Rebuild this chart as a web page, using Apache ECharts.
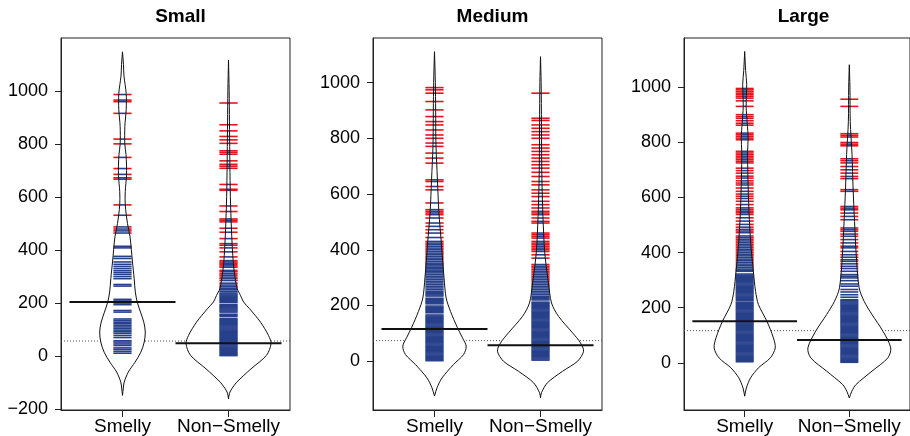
<!DOCTYPE html>
<html>
<head>
<meta charset="utf-8">
<script src="https://cdn.jsdelivr.net/npm/echarts@6/dist/echarts.min.js"></script>
<style>
  html, body { margin: 0; padding: 0; background: #fff; }
  #chart { width: 910px; height: 436px; }
</style>
</head>
<body>
<div id="chart"></div>
<script>
// ---- data ----
const panelTitles = ["Small", "Medium", "Large"];
const groups = ["Smelly", "Non\u2212Smelly"];
const yTicks = [-200, 0, 200, 400, 600, 800, 1000];
const yRanges = [[-203, 1199], [-175, 1160], [-171, 1178]];

// group means (solid lines) and overall mean (dotted line)
const smallMeans = [204, 49];
const mediumMeans = [116, 57];
const largeMeans = [151, 83];
const overallMeans = [57, 74, 117];

// bean outlines: value levels and half width (x-axis units)
const smallSmellyBeanY = [-148, -120, -98, -60, -23, 15, 53, 91, 128, 166, 204, 242, 293, 355, 450, 500, 570, 620, 680, 720, 760, 800, 865, 930, 990, 1056, 1100, 1147];
const smallSmellyBeanW = [0, .008, .016, .055, .118, .173, .205, .215, .201, .170, .139, .121, .110, .094, .071, .047, .026, .026, .038, .038, .033, .022, .022, .035, .035, .014, .009, 0];
const smallNonBeanY = [-161, -140, -123, -98, -48, 3, 47, 78, 128, 179, 204, 229, 254, 317, 380, 506, 632, 883, 1000, 1116];
const smallNonBeanW = [0, .009, .031, .078, .212, .358, .401, .377, .302, .198, .142, .113, .082, .055, .040, .025, .016, .009, .006, 0];
const mediumSmellyBeanY = [-125, -95, -60, -12, 24, 54, 84, 120, 179, 227, 299, 418, 538, 650, 777, 900, 1000, 1111];
const mediumSmellyBeanW = [0, .024, .071, .179, .274, .299, .264, .217, .151, .110, .090, .066, .041, .028, .014, .011, .008, 0];
const mediumNonBeanY = [-131, -113, -77, -36, 0, 36, 66, 102, 161, 209, 281, 400, 639, 850, 1000, 1093];
const mediumNonBeanW = [0, .009, .066, .208, .349, .406, .377, .302, .170, .104, .075, .038, .014, .009, .006, 0];
const largeSmellyBeanY = [-121, -91, -54, -18, 18, 54, 91, 151, 211, 259, 332, 429, 549, 670, 767, 815, 870, 930, 1010, 1060, 1129];
const largeSmellyBeanW = [0, .016, .057, .132, .245, .292, .274, .212, .132, .104, .083, .059, .041, .031, .028, .033, .024, .014, .019, .009, 0];
const largeNonBeanY = [-127, -103, -79, -30, 18, 54, 115, 175, 223, 272, 392, 513, 634, 755, 875, 1000, 1081];
const largeNonBeanW = [0, .024, .063, .217, .368, .396, .321, .217, .142, .094, .066, .050, .036, .026, .009, .006, 0];

// individual observations (bean lines)
const smallSmelly = [986, 965, 959, 915, 818, 800, 749, 707, 685, 672, 667, 570, 531, 487, 479, 472, 464, 414, 408, 376, 368, 355, 346, 338, 330, 322, 315, 308, 300, 292, 270, 264, 214, 208, 200, 194, 172, 166, 140, 134, 128, 122, 116, 110, 104, 98, 92, 86, 78, 70, 58, 53, 46, 40, 31, 25, 18, 11];
const smallNon = [954, 872, 849, 828, 815, 802, 774, 768, 761, 736, 723, 716, 708, 647, 629, 625, 566, 545, 517, 512, 506, 482, 467, 443, 424, 418, 408, 393, 374, 360, 355, 350, 345, 340, 335, 323, 318, 311, 305, 298, 292, 285, 275, 268, 262, 256, 250, 244, 238, 234,
  230, 226, 222, 218, 214, 210, 206, 202, 194, 190, 186, 182, 178, 174, 170, 166, 158, 154, 150, 142, 138, 134, 130, 126, 122, 118, 114, 110, 106, 102, 98, 94, 90, 86, 82, 78, 74, 70, 66, 62, 58, 54, 50, 46, 42, 38, 34, 30, 26, 22, 18, 14, 10, 6, 2];
const mediumSmelly = [982, 974, 962, 932, 902, 878, 860, 848, 830, 812, 800, 783, 771, 747, 729, 711, 651, 645, 627, 615, 568, 544, 538, 532, 526, 514, 496, 484, 472, 460, 444, 430, 424, 418, 412, 406, 400, 394, 388, 382, 376, 370, 364, 358, 352, 347, 342, 337, 332, 327, 322, 317, 311, 305, 299, 293, 287, 281, 275, 269, 263, 257, 251,
  246, 242, 238, 234, 226, 222, 218, 214, 210, 206, 198, 194, 190, 186, 182, 178, 174, 166, 162, 158, 154, 150, 146, 142, 138, 134, 130, 126, 122, 118, 114, 110, 106, 102, 98, 94, 90, 86, 82, 78, 74, 70, 66, 62, 58, 54, 50, 46, 42, 38, 34, 30, 26, 22, 18, 14, 10, 6, 2];
const mediumNon = [962, 872, 864, 848, 836, 824, 812, 800, 777, 765, 753, 741, 729, 717, 705, 693, 678, 663, 645, 633, 615, 603, 591, 574, 562, 550, 538, 532, 526, 514, 502, 496, 460, 454, 448, 442, 430, 424, 418, 412, 406, 400, 394, 382, 370, 347, 341, 335, 329, 323, 317, 311, 305, 299, 293, 287, 281, 275, 269, 263, 257, 251, 245, 239, 233,
  228, 224, 220, 212, 208, 204, 200, 196, 192, 188, 184, 180, 176, 172, 168, 164, 160, 156, 152, 148, 144, 140, 136, 132, 128, 124, 120, 116, 112, 108, 104, 100, 96, 92, 88, 84, 80, 76, 72, 68, 64, 60, 56, 52, 48, 44, 40, 36, 32, 28, 24, 20, 16, 12, 8, 4];
const largeSmelly = [995, 990, 984, 978, 972, 966, 960, 950, 930, 900, 893, 887, 878, 869, 862, 833, 827, 821, 815, 809, 767, 761, 755, 749, 743, 737, 731, 725, 706, 697, 688, 677, 670, 660, 652, 645, 634, 622, 612, 604, 596, 586, 574, 562, 556, 550, 544, 538, 526, 514, 502, 492, 484, 478, 472, 460, 454, 448, 442, 436, 430, 424, 418, 412, 406, 400, 394, 388, 382, 376, 370, 364, 358, 352, 346, 340, 336,
  332, 322, 318, 314, 310, 306, 302, 298, 294, 290, 286, 282, 278, 274, 270, 266, 262, 258, 254, 250, 246, 242, 238, 234, 230, 226, 220, 216, 212, 208, 204, 200, 196, 192, 188, 184, 180, 176, 172, 168, 164, 160, 156, 152, 148, 144, 140, 136, 132, 128, 124, 120, 116, 112, 108, 104, 100, 96, 92, 88, 84, 80, 76, 72, 68, 64, 60, 56, 52, 48, 44, 40, 36, 32, 28, 24, 20, 16, 12, 8, 4];
const largeNon = [956, 930, 831, 825, 819, 799, 793, 787, 740, 733, 725, 712, 700, 688, 676, 668, 628, 622, 567, 561, 555, 543, 531, 519, 489, 483, 477, 467, 459, 447, 435, 423, 417, 404, 392, 383, 374, 368, 359, 350, 342, 332, 320, 314, 308, 298, 286, 278, 266, 257, 247, 238, 229,
  225, 221, 217, 213, 209, 205, 201, 197, 193, 189, 185, 181, 177, 173, 169, 165, 161, 157, 153, 149, 145, 141, 137, 133, 129, 125, 121, 117, 113, 109, 105, 101, 97, 93, 89, 85, 81, 77, 73, 69, 65, 61, 57, 53, 49, 45, 41, 37, 33, 29, 25, 21, 17, 13, 9, 5, 2];

// ---- build panels ----
const panels = [
  { beans: [[smallSmellyBeanY, smallSmellyBeanW], [smallNonBeanY, smallNonBeanW]], obs: [smallSmelly, smallNon], means: smallMeans },
  { beans: [[mediumSmellyBeanY, mediumSmellyBeanW], [mediumNonBeanY, mediumNonBeanW]], obs: [mediumSmelly, mediumNon], means: mediumMeans },
  { beans: [[largeSmellyBeanY, largeSmellyBeanW], [largeNonBeanY, largeNonBeanW]], obs: [largeSmelly, largeNon], means: largeMeans },
];

const RED = "#e8141c";
const BLUE = "#27408b";
const LINE_HALF = 0.086;
const LINE_W = 1.6;
const X_MIN = 0.42, X_MAX = 2.58;
const gridLefts = [61, 373, 684];
const FONT = "'Liberation Sans', Arial, Helvetica, sans-serif";

function widthAt(ys, ws, v) {
  if (v <= ys[0] || v >= ys[ys.length - 1]) return 0;
  for (let i = 1; i < ys.length; i++) {
    if (v <= ys[i]) {
      const t = (v - ys[i - 1]) / (ys[i] - ys[i - 1]);
      return ws[i - 1] + t * (ws[i] - ws[i - 1]);
    }
  }
  return 0;
}

function beanPoints(api, center, ys, ws) {
  const pts = [];
  for (let i = 0; i < ys.length; i++) pts.push(api.coord([center - ws[i], ys[i]]));
  for (let i = ys.length - 1; i >= 0; i--) pts.push(api.coord([center + ws[i], ys[i]]));
  return pts;
}

function seg(x1, x2, y, color) {
  return { type: "line", shape: { x1: x1, y1: y, x2: x2, y2: y }, style: { stroke: color, lineWidth: LINE_W } };
}

const grid = [], xAxis = [], yAxis = [], series = [], title = [];

panels.forEach((p, k) => {
  grid.push({
    left: gridLefts[k], top: 38, width: 229, height: 372,
    show: true, borderColor: "#222", borderWidth: 1, backgroundColor: "transparent"
  });
  title.push({
    text: panelTitles[k], left: gridLefts[k] + 114.5, top: 2, textAlign: "center",
    textStyle: { fontFamily: FONT, fontSize: 19, fontWeight: "bold", color: "#000" }
  });
  xAxis.push({
    type: "value", gridIndex: k, min: X_MIN, max: X_MAX,
    splitLine: { show: false },
    axisLine: { show: true, onZero: false, lineStyle: { color: "#222", width: 1 } },
    axisTick: { show: true, length: 7, customValues: [1, 2], lineStyle: { color: "#222" } },
    axisLabel: {
      customValues: [1, 2], margin: 7, color: "#000", fontFamily: FONT, fontSize: 19,
      formatter: v => groups[Math.round(v) - 1] || ""
    }
  });
  yAxis.push({
    type: "value", gridIndex: k, min: yRanges[k][0], max: yRanges[k][1],
    splitLine: { show: false },
    axisLine: { show: true, onZero: false, lineStyle: { color: "#222", width: 1 } },
    axisTick: { show: true, length: 6, customValues: yTicks, lineStyle: { color: "#222" } },
    axisLabel: {
      customValues: yTicks, margin: 13, color: "#000", fontFamily: FONT, fontSize: 18,
      formatter: v => (v < 0 ? "\u2212" + Math.abs(v) : String(v))
    }
  });

  // overall mean, dotted
  series.push({
    type: "line", xAxisIndex: k, yAxisIndex: k, symbol: "none", silent: true, z: 1,
    data: [[X_MIN, overallMeans[k]], [X_MAX, overallMeans[k]]],
    lineStyle: { color: "#555", width: 1, type: [1, 2] }
  });

  // bean fill (white, hides the dotted line)
  series.push({
    type: "custom", xAxisIndex: k, yAxisIndex: k, silent: true, z: 2,
    data: [[1, 0], [2, 0]],
    renderItem: (params, api) => {
      const c = api.value(0);
      const b = p.beans[c - 1];
      return { type: "polygon", shape: { points: beanPoints(api, c, b[0], b[1]), smooth: 0.3 }, style: { fill: "#fff", stroke: null } };
    }
  });

  // bean lines: blue inside the bean, red outside it
  const obsData = [];
  p.obs.forEach((arr, g) => arr.forEach(v => obsData.push([g + 1, v])));
  series.push({
    type: "custom", xAxisIndex: k, yAxisIndex: k, silent: true, z: 3, progressive: 0,
    data: obsData,
    renderItem: (params, api) => {
      const c = api.value(0), v = api.value(1);
      const bean = p.beans[c - 1];
      const hw = Math.min(LINE_HALF, widthAt(bean[0], bean[1], v));
      const l = api.coord([c - LINE_HALF, v]), il = api.coord([c - hw, v]);
      const ir = api.coord([c + hw, v]), r = api.coord([c + LINE_HALF, v]);
      const children = [];
      if (il[0] - l[0] > 0.2) children.push(seg(l[0], il[0], l[1], RED));
      if (r[0] - ir[0] > 0.2) children.push(seg(ir[0], r[0], l[1], RED));
      if (ir[0] - il[0] > 0.2) children.push(seg(il[0], ir[0], l[1], BLUE));
      return { type: "group", children: children };
    }
  });

  // bean outline
  series.push({
    type: "custom", xAxisIndex: k, yAxisIndex: k, silent: true, z: 5,
    data: [[1, 0], [2, 0]],
    renderItem: (params, api) => {
      const c = api.value(0);
      const b = p.beans[c - 1];
      return { type: "polygon", shape: { points: beanPoints(api, c, b[0], b[1]), smooth: 0.3 }, style: { fill: null, stroke: "#111", lineWidth: 1 } };
    }
  });

  // group means
  series.push({
    type: "custom", xAxisIndex: k, yAxisIndex: k, silent: true, z: 6,
    data: [[1, p.means[0]], [2, p.means[1]]],
    renderItem: (params, api) => {
      const c = api.value(0), v = api.value(1);
      const a = api.coord([c - 0.5, v]), b = api.coord([c + 0.5, v]);
      return { type: "line", shape: { x1: a[0], y1: a[1], x2: b[0], y2: b[1] }, style: { stroke: "#111", lineWidth: 2 } };
    }
  });
});

const chart = echarts.init(document.getElementById("chart"), null, { renderer: "canvas" });
chart.setOption({
  animation: false,
  backgroundColor: "#fff",
  title: title,
  grid: grid,
  xAxis: xAxis,
  yAxis: yAxis,
  series: series
});
</script>
</body>
</html>
